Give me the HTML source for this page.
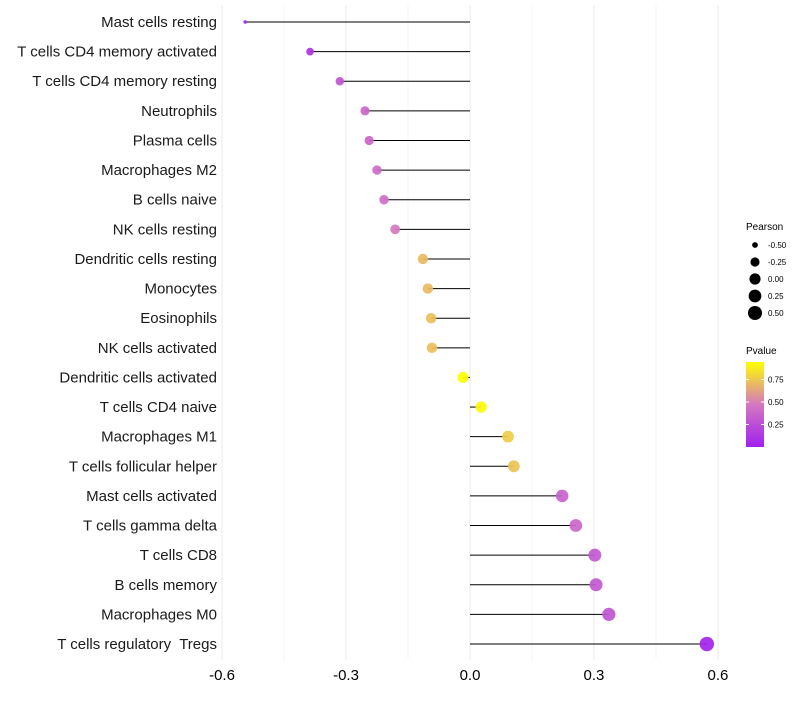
<!DOCTYPE html>
<html><head><meta charset="utf-8"><style>
body{margin:0;background:#fff;font-family:"Liberation Sans",sans-serif}
svg text{font-family:"Liberation Sans",sans-serif;white-space:pre}
</style></head><body>
<svg id="c" width="800" height="700"></svg>
<script>
const categories=["Mast cells resting","T cells CD4 memory activated","T cells CD4 memory resting","Neutrophils","Plasma cells","Macrophages M2","B cells naive","NK cells resting","Dendritic cells resting","Monocytes","Eosinophils","NK cells activated","Dendritic cells activated","T cells CD4 naive","Macrophages M1","T cells follicular helper","Mast cells activated","T cells gamma delta","T cells CD8","B cells memory","Macrophages M0","T cells regulatory  Tregs"];
const pearson=[-0.544,-0.387,-0.315,-0.254,-0.244,-0.225,-0.208,-0.181,-0.114,-0.102,-0.094,-0.092,-0.017,0.027,0.092,0.106,0.223,0.256,0.302,0.305,0.336,0.573];
const pvalue=[0.01,0.1,0.3,0.4,0.4,0.42,0.45,0.5,0.72,0.72,0.74,0.74,0.95,0.93,0.78,0.75,0.38,0.4,0.33,0.33,0.3,0.02];
const xTicks=[-0.6,-0.3,0.0,0.3,0.6];
const xMinor=[-0.45,-0.15,0.15,0.45];
const sizeLegend=[-0.5,-0.25,0,0.25,0.5];
const colorTicks=[0.75,0.5,0.25];
const NS="http://www.w3.org/2000/svg",svg=document.getElementById('c');
function mk(t,a,p){const e=document.createElementNS(NS,t);for(const k in a)e.setAttribute(k,a[k]);(p||svg).appendChild(e);return e;}
const x=v=>470+v*413.3;
const y=i=>22+i*29.62;
const pmin=Math.min(...pearson),pmax=Math.max(...pearson);
const r=v=>{const t=Math.max(0,(v-pmin)/(pmax-pmin));return 1.8+5.4*Math.sqrt(t);};
function lerp(a,b,t){return a.map((c,i)=>Math.round(c+(b[i]-c)*t));}
function col(p){const s=[[0,[160,32,240]],[0.5,[212,120,192]],[0.95,[255,255,0]]];p=Math.max(0,Math.min(0.95,p));
 let k=p<=0.5?0:1;const t=(p-s[k][0])/(s[k+1][0]-s[k][0]);const c=lerp(s[k][1],s[k+1][1],t);return `rgb(${c})`;}
xMinor.forEach(v=>{const l=mk('line',{x1:x(v),x2:x(v),y1:5,y2:660,stroke:'#f4f4f4','stroke-width':1});

});
xTicks.forEach(v=>{const l=mk('line',{x1:x(v),x2:x(v),y1:5,y2:660,stroke:'#ebebeb','stroke-width':1});


const t=mk('text',{x:x(v),y:680,'font-size':15,'text-anchor':'middle',fill:'#000'});t.textContent=v.toFixed(1);

});
categories.forEach((c,i)=>{
 const t=mk('text',{x:217,y:y(i)+5,'font-size':15,'text-anchor':'end',fill:'#1a1a1a'});t.textContent=c;
 
 
 const l=mk('line',{x1:x(0),x2:x(pearson[i]),y1:y(i),y2:y(i),stroke:'#000','stroke-width':1});
 
 
 const d=mk('circle',{cx:x(pearson[i]),cy:y(i),r:r(pearson[i]),fill:col(pvalue[i]),'fill-opacity':0.92});
 
 
});
let tt=mk('text',{x:746,y:230,'font-size':10});tt.textContent='Pearson';


sizeLegend.forEach((v,i)=>{const cy=245+i*17;
 const d=mk('circle',{cx:755,cy:cy,r:Math.max(2.2,r(v)),fill:'#000'});
 
 
 const t=mk('text',{x:768,y:cy+3,'font-size':8});t.textContent=v.toFixed(2);
 
 });
tt=mk('text',{x:746,y:354,'font-size':10});tt.textContent='Pvalue';


const defs=mk('defs',{});const g=mk('linearGradient',{id:'gr',x1:0,y1:1,x2:0,y2:0},defs);
[[0,0],[0.5,0.5],[1,0.95]].forEach(s=>mk('stop',{offset:s[0],'stop-color':col(s[1])},g));
const cb=mk('rect',{x:746,y:362,width:18,height:85,fill:'url(#gr)'});


const cy=v=>447-v*90;
colorTicks.forEach(v=>{mk('line',{x1:746,x2:749,y1:cy(v),y2:cy(v),stroke:'#fff'});mk('line',{x1:761,x2:764,y1:cy(v),y2:cy(v),stroke:'#fff'});
 const t=mk('text',{x:768,y:cy(v)+3,'font-size':8});t.textContent=v.toFixed(2);
 
 });
</script>
</body></html>
